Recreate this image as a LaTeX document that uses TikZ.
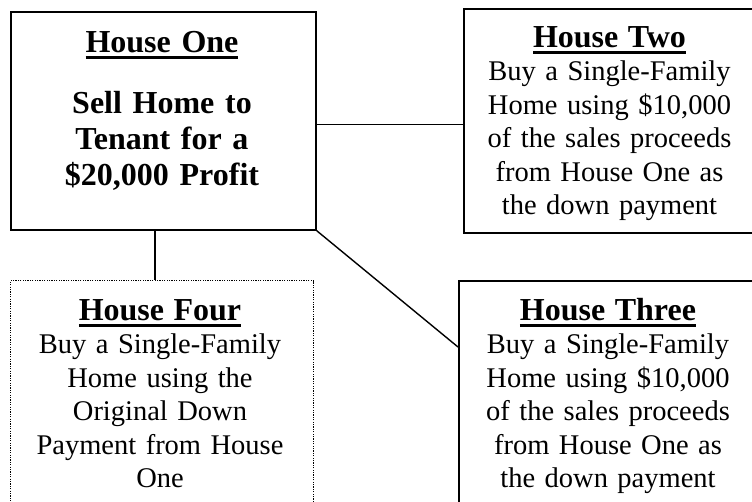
\documentclass[tikz,border=0pt]{standalone}
\usepackage{fontspec}
\setmainfont{Liberation Serif}
\newcommand\utitle[1]{\setbox0\hbox{#1}\rlap{\rule[-6.5pt]{\wd0}{2.3pt}}\box0}
\newcommand\housetitle[1]{{\fontsize{32}{33.5}\selectfont\bfseries\utitle{#1}}}
\begin{document}
\begin{tikzpicture}[x=1pt,y=1pt,
  solidbox/.style={draw, line width=1.7pt, inner sep=0pt, anchor=north west},
  dotbox/.style={draw, line width=1.2pt, dash pattern=on 1.2pt off 1.2pt, inner sep=0pt, anchor=north west},
  bodytext/.style={inner sep=0pt, align=center, anchor=base, font=\fontsize{28.5}{33.5}\selectfont},
  onetext/.style={inner sep=0pt, align=center, anchor=base, text width=300, font=\fontsize{32}{36}\selectfont\bfseries},
  conn/.style={line width=1.4pt}]
\useasboundingbox (0,0) rectangle (752,-501);
\clip (0,0) rectangle (752,-501);
% boxes
\node[solidbox, minimum width=305, minimum height=218] (one) at (10,-11) {};
\node[solidbox, minimum width=295, minimum height=224] (two) at (463,-8) {};
\node[solidbox, minimum width=300, minimum height=240] (three) at (458,-280) {};
\node[dotbox, minimum width=303, minimum height=240] (four) at (10,-280) {};
% texts
\node[onetext] (onetxt) at (162,-52) {\utitle{House One}\\[25pt]Sell Home to\\Tenant for a\\\$20,000 Profit};
\node[bodytext, text width=290] (twotxt) at (609.5,-47) {\housetitle{House Two}\\Buy a Single-Family\\Home using \$10,000\\of the sales proceeds\\from House One as\\the down payment};
\node[bodytext, text width=290] (threetxt) at (608,-320) {\housetitle{House Three}\\Buy a Single-Family\\Home using \$10,000\\of the sales proceeds\\from House One as\\the down payment};
\node[bodytext, text width=295] (fourtxt) at (160,-320) {\housetitle{House Four}\\Buy a Single-Family\\Home using the\\Original Down\\Payment from House\\One};
% connectors
\draw[conn] ([yshift=-3.5]one.east) -- ([yshift=-3.5]one.east -| two.west);
\draw[conn] ([xshift=-8.5]one.south) -- ([xshift=-8.5]one.south |- four.north);
\draw[conn] (one.south east) -- ([yshift=-67]three.north west);
\end{tikzpicture}
\end{document}
